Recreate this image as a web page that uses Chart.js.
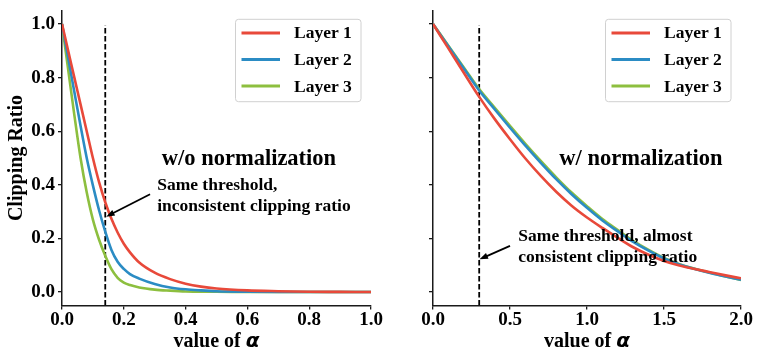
<!DOCTYPE html>
<html>
<head>
<meta charset="utf-8">
<script src="https://cdn.jsdelivr.net/npm/chart.js@4.4.0/dist/chart.umd.min.js"></script>
<style>
  body { margin: 0; background: #fff; }
  #wrap { position: relative; width: 761px; height: 360px; }
  canvas { position: absolute; top: 0; }
</style>
</head>
<body>
<div id="wrap">
  <canvas id="left" width="400" height="360" style="left:0"></canvas>
  <canvas id="right" width="381" height="360" style="left:380px"></canvas>
</div>
<script>
// ---- data ----
const layerNames = ["Layer 1", "Layer 2", "Layer 3"];
const layerColors = ["#e8493a", "#2b8cc4", "#8dbf3f"];

// left panel: w/o normalization
const leftAlpha  = [0, 0.02, 0.04, 0.06, 0.08, 0.10, 0.12, 0.14, 0.16, 0.18, 0.20, 0.22, 0.25, 0.30, 0.35, 0.40, 0.45, 0.50, 0.60, 0.70, 0.80, 0.90, 1.00];
const leftLayer1 = [1.0, 0.90, 0.80, 0.70, 0.60, 0.50, 0.41, 0.335, 0.273, 0.222, 0.18, 0.148, 0.11, 0.072, 0.048, 0.031, 0.02, 0.013, 0.006, 0.003, 0.001, 0.0005, 0];
const leftLayer2 = [1.0, 0.873, 0.746, 0.62, 0.50, 0.398, 0.305, 0.225, 0.157, 0.113, 0.086, 0.067, 0.05, 0.03, 0.017, 0.01, 0.006, 0.003, 0.001, 0, 0, 0, 0];
const leftLayer3 = [1.0, 0.83, 0.66, 0.50, 0.372, 0.27, 0.195, 0.135, 0.085, 0.053, 0.035, 0.026, 0.017, 0.009, 0.005, 0.002, 0.001, 0.001, 0, 0, 0, 0, 0];
const leftThreshold = 0.14;

// right panel: w/ normalization
const rightAlpha  = [0, 0.1, 0.2, 0.3, 0.4, 0.5, 0.6, 0.7, 0.8, 0.9, 1.0, 1.1, 1.2, 1.3, 1.4, 1.5, 1.6, 1.7, 1.8, 1.9, 2.0];
const rightLayer1 = [1.0, 0.909, 0.818, 0.728, 0.646, 0.570, 0.498, 0.433, 0.374, 0.322, 0.278, 0.239, 0.202, 0.167, 0.139, 0.116, 0.099, 0.086, 0.074, 0.062, 0.051];
const rightLayer2 = [1.0, 0.917, 0.834, 0.752, 0.682, 0.613, 0.546, 0.482, 0.421, 0.365, 0.314, 0.267, 0.226, 0.187, 0.154, 0.125, 0.103, 0.086, 0.071, 0.058, 0.046];
const rightLayer3 = [1.0, 0.919, 0.838, 0.757, 0.688, 0.620, 0.553, 0.489, 0.428, 0.371, 0.320, 0.272, 0.231, 0.191, 0.157, 0.127, 0.104, 0.087, 0.072, 0.058, 0.045];
const rightThreshold = 0.30;

const yTicks = [0, 0.2, 0.4, 0.6, 0.8, 1.0];
const leftXTicks = [0, 0.2, 0.4, 0.6, 0.8, 1.0];
const rightXTicks = [0, 0.5, 1.0, 1.5, 2.0];

const SERIF = '"Liberation Serif", "Times New Roman", serif';
const Y_MIN = -0.05, Y_MAX = 1.05;

function pts(xs, ys) {
  return xs.map((x, i) => ({ x: x, y: ys[i] }));
}

function makeDatasets(xs, series, threshold) {
  const sets = series.map((ys, i) => ({
    label: layerNames[i],
    data: pts(xs, ys),
    borderColor: layerColors[i],
    borderWidth: 2.6,
    pointRadius: 0,
    cubicInterpolationMode: "monotone",
    fill: false
  }));
  // dashed threshold marker, up to 95% of the axes height
  sets.push({
    label: "threshold",
    marker: true,
    data: [{ x: threshold, y: Y_MIN }, { x: threshold, y: Y_MIN + 0.95 * (Y_MAX - Y_MIN) }],
    borderColor: "#000",
    borderWidth: 1.8,
    borderDash: [5.5, 2.5],
    pointRadius: 0
  });
  return sets;
}

// legend box, panel title, note + arrow, axis titles
const decor = {
  id: "decor",
  afterDatasetsDraw(chart, args, opts) {
    const { ctx, chartArea: a, scales: { x, y } } = chart;
    ctx.save();

    // legend
    const bw = 125.5, bh = 82.4;
    const bx = a.right - 10 - bw, by = a.top + 8.7;
    ctx.beginPath();
    ctx.roundRect(bx, by, bw, bh, 3);
    ctx.fillStyle = "rgba(255,255,255,0.85)";
    ctx.fill();
    ctx.strokeStyle = "#d0d0d0";
    ctx.lineWidth = 1;
    ctx.stroke();
    ctx.font = "bold 17.5px " + SERIF;
    ctx.textAlign = "left";
    ctx.textBaseline = "middle";
    chart.data.datasets.filter(d => !d.marker).forEach((d, i) => {
      const ry = by + 13.6 + i * 26.6;
      ctx.beginPath();
      ctx.moveTo(bx + 6, ry);
      ctx.lineTo(bx + 44.5, ry);
      ctx.strokeStyle = d.borderColor;
      ctx.lineWidth = 3;
      ctx.stroke();
      ctx.fillStyle = "#000";
      ctx.fillText(d.label, bx + 58.5, ry + 1);
    });

    // panel title
    ctx.fillStyle = "#000";
    ctx.textBaseline = "alphabetic";
    ctx.textAlign = "center";
    ctx.font = "bold 22.5px " + SERIF;
    ctx.fillText(opts.title, x.getPixelForValue(opts.titleAt[0]), y.getPixelForValue(opts.titleAt[1]));

    // note
    ctx.textAlign = "left";
    ctx.font = "bold 17.5px " + SERIF;
    const nx = x.getPixelForValue(opts.noteAt[0]);
    const ny = y.getPixelForValue(opts.noteAt[1]);
    opts.note.forEach((line, i) => ctx.fillText(line, nx, ny + i * 20.5));

    // arrow
    const fx = x.getPixelForValue(opts.arrowFrom[0]), fy = y.getPixelForValue(opts.arrowFrom[1]);
    const tx = x.getPixelForValue(opts.arrowTo[0]), ty = y.getPixelForValue(opts.arrowTo[1]);
    const ang = Math.atan2(ty - fy, tx - fx);
    ctx.strokeStyle = "#000";
    ctx.lineWidth = 1.8;
    ctx.beginPath();
    ctx.moveTo(fx, fy);
    ctx.lineTo(tx - 3 * Math.cos(ang), ty - 3 * Math.sin(ang));
    ctx.stroke();
    ctx.beginPath();
    ctx.moveTo(tx, ty);
    ctx.lineTo(tx - 9 * Math.cos(ang - 0.35), ty - 9 * Math.sin(ang - 0.35));
    ctx.lineTo(tx - 9 * Math.cos(ang + 0.35), ty - 9 * Math.sin(ang + 0.35));
    ctx.closePath();
    ctx.fillStyle = "#000";
    ctx.fill();

    // x title "value of α"
    const cx = (a.left + a.right) / 2;
    const f1 = "bold 20px " + SERIF, f2 = "italic bold 20px 'DejaVu Sans'";
    ctx.font = f1;
    const w1 = ctx.measureText("value of ").width;
    ctx.font = f2;
    const w2 = ctx.measureText("α").width;
    let sx = cx - (w1 + w2) / 2;
    ctx.font = f1;
    ctx.fillText("value of ", sx, 347);
    ctx.font = f2;
    ctx.fillText("α", sx + w1, 347);

    // y title
    if (opts.yTitle) {
      ctx.translate(22, (a.top + a.bottom) / 2);
      ctx.rotate(-Math.PI / 2);
      ctx.textAlign = "center";
      ctx.font = "bold 20px " + SERIF;
      ctx.fillText(opts.yTitle, 0, 0);
    }
    ctx.restore();
  }
};

function makeChart(id, xs, series, threshold, xTicks, xMax, yWidth, padRight, showYLabels, deco) {
  const tickFont = { family: SERIF, size: 19, weight: "bold" };
  const axisLine = { display: true, color: "#1a1a1a", width: 1.5 };
  const grid = { display: true, drawOnChartArea: false, drawTicks: true, tickLength: 4, color: "#1a1a1a", lineWidth: 1.3 };
  return new Chart(document.getElementById(id), {
    type: "line",
    data: { datasets: makeDatasets(xs, series, threshold) },
    options: {
      responsive: false,
      animation: false,
      layout: { padding: { left: 0, right: padRight, top: 10.6, bottom: 0 } },
      plugins: { legend: { display: false }, tooltip: { enabled: false }, decor: deco },
      scales: {
        x: {
          type: "linear",
          min: 0,
          max: xMax,
          border: axisLine,
          grid: grid,
          ticks: { font: tickFont, color: "#000", padding: -1, maxRotation: 0, autoSkip: false,
                   callback: v => v.toFixed(1) },
          afterBuildTicks: s => { s.ticks = xTicks.map(v => ({ value: v })); },
          afterFit: s => { s.height = 54.6; s.paddingLeft = 0; s.paddingRight = 0; }
        },
        y: {
          type: "linear",
          min: Y_MIN,
          max: Y_MAX,
          border: axisLine,
          grid: grid,
          ticks: { font: tickFont, color: "#000", padding: 3,
                   callback: v => showYLabels ? v.toFixed(1) : "" },
          afterBuildTicks: s => { s.ticks = yTicks.map(v => ({ value: v })); },
          afterFit: s => { s.width = yWidth; s.paddingTop = 0; s.paddingBottom = 0; }
        }
      }
    },
    plugins: [decor]
  });
}

makeChart("left", leftAlpha, [leftLayer1, leftLayer2, leftLayer3], leftThreshold,
  leftXTicks, 1.0, 62, 29, true, {
    title: "w/o normalization", titleAt: [0.605, 0.474],
    note: ["Same threshold,", "inconsistent clipping ratio"], noteAt: [0.308, 0.38],
    arrowFrom: [0.285, 0.365], arrowTo: [0.143, 0.281],
    yTitle: "Clipping Ratio"
  });

makeChart("right", rightAlpha, [rightLayer1, rightLayer2, rightLayer3], rightThreshold,
  rightXTicks, 2.0, 53, 20, false, {
    title: "w/ normalization", titleAt: [1.35, 0.474],
    note: ["Same threshold, almost", "consistent clipping ratio"], noteAt: [0.554, 0.19],
    arrowFrom: [0.50, 0.172], arrowTo: [0.302, 0.122],
    yTitle: null
  });
</script>
</body>
</html>
